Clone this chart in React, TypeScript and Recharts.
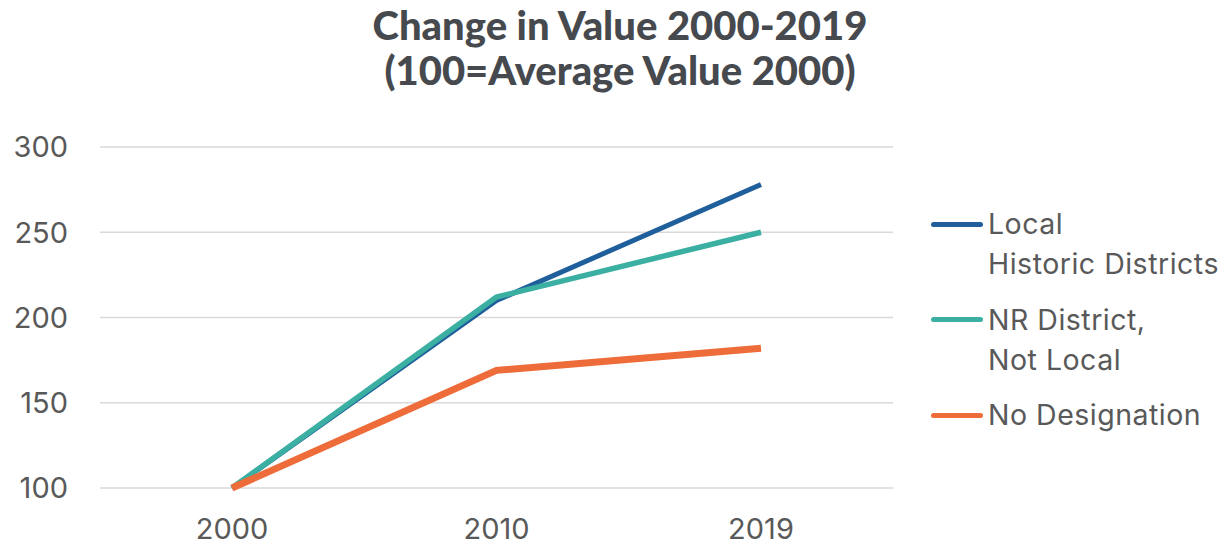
import { LineChart, Line, XAxis, YAxis, CartesianGrid, Legend } from "recharts";

const years = ["2000", "2010", "2019"];
const localHistoric = [100, 210, 278];
const nrDistrict = [100, 212, 250];
const noDesignation = [100, 169, 182];
const yTicks = [100, 150, 200, 250, 300];

const seriesInfo = [
  { key: "local", label: ["Local", "Historic Districts"], color: "#1f5f9b", width: 5 },
  { key: "nr", label: ["NR District,", "Not Local"], color: "#3aafa2", width: 5.5 },
  { key: "none", label: ["No Designation"], color: "#ee6c3a", width: 7 },
];

const data = years.map((year, i) => ({
  year,
  local: localHistoric[i],
  nr: nrDistrict[i],
  none: noDesignation[i],
}));

const textColor = "#595959";
const font = "Inter, 'Open Sans', sans-serif";

function LegendBox() {
  return (
    <div style={{ fontFamily: font, fontSize: 28.5, color: textColor, letterSpacing: 0.5 }}>
      {seriesInfo.map((s) => (
        <div key={s.key} style={{ display: "flex", alignItems: "flex-start", marginBottom: 15.5 }}>
          <div style={{ height: 40, display: "flex", alignItems: "center" }}>
            <div
              style={{
                width: 52,
                height: 5,
                borderRadius: 3,
                background: s.color,
                marginRight: 5,
              }}
            />
          </div>
          <div>
            {s.label.map((t) => (
              <div key={t} style={{ lineHeight: "40px", whiteSpace: "nowrap" }}>
                {t}
              </div>
            ))}
          </div>
        </div>
      ))}
    </div>
  );
}

export default function App() {
  return (
    <div style={{ position: "absolute", left: 0, top: 0, width: 1228, height: 546, background: "#fff" }}>
      <div
        style={{
          position: "absolute",
          left: 0,
          top: 3,
          width: 1240,
          textAlign: "center",
          fontFamily: "Lato, sans-serif",
          fontWeight: 900,
          fontSize: 40,
          lineHeight: "45px",
          color: "#46494e",
        }}
      >
        <div>Change in Value 2000-2019</div>
        <div>(100=Average Value 2000)</div>
      </div>
      <LineChart
        width={1228}
        height={546}
        data={data}
        margin={{ top: 147, right: 38, bottom: 8, left: 0 }}
      >
        <CartesianGrid vertical={false} stroke="#d9d9d9" strokeWidth={1.5} />
        <XAxis
          dataKey="year"
          axisLine={false}
          tickLine={false}
          tickSize={0}
          tickMargin={30}
          height={50}
          padding={{ left: 132, right: 132 }}
          tick={{ fill: textColor, fontSize: 29, fontFamily: font }}
        />
        <YAxis
          domain={[100, 300]}
          ticks={yTicks}
          axisLine={false}
          tickLine={false}
          tickSize={0}
          tickMargin={32}
          width={100}
          tick={{ fill: textColor, fontSize: 29, fontFamily: font }}
        />
        <Legend
          layout="vertical"
          align="right"
          verticalAlign="top"
          content={<LegendBox />}
          wrapperStyle={{ left: 931, top: 204, width: 297 }}
        />
        {seriesInfo.map((s) => (
          <Line
            key={s.key}
            type="linear"
            dataKey={s.key}
            stroke={s.color}
            strokeWidth={s.width}
            dot={false}
            activeDot={false}
            isAnimationActive={false}
          />
        ))}
      </LineChart>
    </div>
  );
}
